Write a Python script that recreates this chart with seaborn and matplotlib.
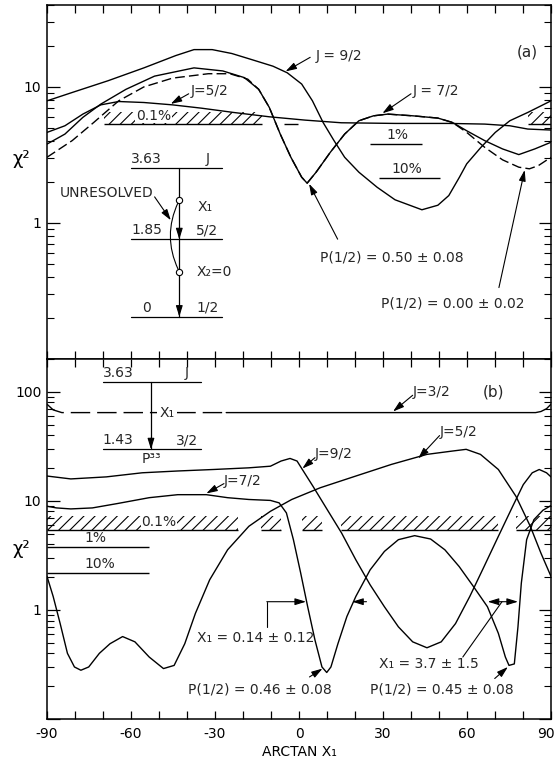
import numpy as np
import pandas as pd
import matplotlib
matplotlib.use("Agg")
import matplotlib.pyplot as plt
import matplotlib.transforms as mtransforms
from matplotlib.patches import FancyArrowPatch
from matplotlib.ticker import FixedLocator, FixedFormatter, LogLocator, NullFormatter
import seaborn as sns

# ---------------- panel (a): 3.63 -> 1.85 -> 0 cascade ----------------
A_J92_X = [-90, -81.0, -68.2, -55.4, -44.0, -37.5, -31.0, -24.0, -17.0, -9.3, -4.2, 0.95,
           4.8, 8.6, 12.5, 16.3, 21.4, 27.9, 34.3, 43.9, 49.6, 53.5, 57.3, 59.9, 65.0,
           70.1, 75.3, 81.7, 90]
A_J92_Y = [7.9, 9.1, 11.1, 13.8, 17.0, 18.8, 18.8, 17.6, 15.9, 14.2, 12.7, 10.5,
           7.9, 5.48, 4.03, 3.04, 2.36, 1.83, 1.48, 1.25, 1.35, 1.59, 2.17, 2.72, 3.6,
           4.63, 5.64, 6.49, 7.9]

A_J72_X = [-90, -83.6, -77.2, -70.8, -61.8, -51.6, -37.5, -27.2, -19.5, -14.4, -10.6, -6.7,
           -2.9, 0.95, 2.9, 6.1, 11.2, 16.3, 21.4, 26.6, 31.7, 40.7, 49.6, 54.8, 59.9,
           66.3, 72.7, 78.5, 84.2, 90]
A_J72_Y = [3.8, 4.5, 5.97, 7.47, 9.6, 12.0, 13.8, 13.1, 11.7, 9.6, 7.06, 4.5,
           3.04, 2.17, 1.96, 2.36, 3.31, 4.5, 5.64, 6.13, 6.31, 6.13, 5.9, 5.48, 4.76,
           4.03, 3.5, 3.18, 3.5, 3.92]

A_J72P0_X = [-90, -81.0, -73.3, -64.4, -55.4, -45.2, -32.4, -24.7, -18.3, -14.4, -10.6, -6.7,
             -2.9, 0.95, 2.9, 6.1, 11.2, 16.3, 21.4, 26.6, 31.7, 40.7, 49.6, 54.8, 59.9,
             66.3, 72.7, 78.5, 82.3, 85.5, 90]
A_J72P0_Y = [3.04, 4.03, 5.48, 7.9, 10.0, 11.6, 12.5, 12.5, 11.4, 9.6, 7.06, 4.5,
             3.04, 2.17, 1.96, 2.36, 3.31, 4.5, 5.64, 6.13, 6.31, 6.13, 5.9, 5.48, 4.63,
             3.6, 2.91, 2.57, 2.5, 2.64, 3.04]

A_J52_X = [-90, -83.6, -77.2, -70.8, -64.4, -55.4, -45.2, -34.9, -23.4, -10.6, 2.2, 15.1,
           34.3, 53.5, 66.3, 75.3, 81.7, 90]
A_J52_Y = [4.63, 5.18, 6.31, 7.38, 7.81, 7.68, 7.38, 6.98, 6.49, 6.03, 5.7, 5.45,
           5.39, 5.39, 5.33, 5.18, 4.9, 4.82]

# confidence levels (0.1 %, 1 %, 10 %)
A_LEVELS = [5.36, 3.8, 2.13]

# ---------------- panel (b): 3.63 -> 1.43 cascade ----------------
B_J32_X = [-90, -87.8, -84.7, -60, -26, 0, 30, 60, 84.5, 86.4, 88.4, 90]
B_J32_Y = [77, 68.3, 64.5, 64.5, 64.5, 64.5, 64.5, 64.5, 64.5, 66, 70, 77]

B_J92_X = [-90, -81.5, -68.8, -56.0, -43.3, -30.6, -17.9, -10.2, -6.4, -3.2, -0.7, 1.2,
           5.0, 10.1, 15.2, 20.3, 25.4, 30.5, 35.5, 40.6, 45.7, 50.8, 55.9, 61.0, 66.1,
           71.2, 76.3, 80.1, 83.3, 85.8, 88.4, 90]
B_J92_Y = [16.9, 15.9, 16.6, 18.1, 18.8, 19.4, 20.1, 20.8, 23.2, 24.5, 23.2, 19.4,
           13.6, 8.3, 5.08, 2.88, 1.7, 1.07, 0.70, 0.51, 0.45, 0.51, 0.75, 1.33, 2.5,
           4.73, 8.9, 14.1, 18.1, 19.4, 18.1, 16.6]

B_J72_X = [-90, -86.6, -81.5, -73.8, -64.9, -53.5, -43.3, -33.1, -25.5, -17.9, -10.2, -7.1,
           -4.5, -2.0, 0.6, 3.1, 5.7, 8.2, 9.9, 11.4, 13.9, 17.1, 20.3, 25.4, 30.5, 35.5,
           41.3, 47.0, 52.1, 57.2, 62.3, 67.3, 71.2, 73.7, 75.0, 76.9, 78.2, 79.4, 81.3,
           83.9, 87.1, 90]
B_J72_Y = [8.93, 8.62, 8.44, 8.62, 9.45, 10.7, 11.4, 11.4, 10.7, 10.3, 10.1, 9.59,
           7.76, 4.41, 2.18, 1.07, 0.53, 0.30, 0.267, 0.30, 0.49, 0.87, 1.33, 2.33, 3.44,
           4.41, 4.8, 4.47, 3.56, 2.5, 1.64, 1.07, 0.61, 0.37, 0.31, 0.32, 0.70, 1.76,
           4.41, 6.73, 8.2, 9.06]

B_J52_X = [-90, -87.8, -85.3, -82.7, -80.2, -77.9, -75.1, -71.3, -67.5, -63.0, -58.6, -53.5,
           -48.4, -44.6, -40.8, -37.0, -31.9, -25.5, -17.9, -10.2, -2.6, 7.6, 20.3, 33.0,
           45.7, 54.6, 59.7, 64.8, 71.2, 77.5, 82.6, 86.4, 90]
B_J52_Y = [2.03, 1.33, 0.75, 0.40, 0.30, 0.28, 0.30, 0.40, 0.49, 0.57, 0.51, 0.37,
           0.29, 0.31, 0.49, 0.93, 1.89, 3.56, 5.85, 8.03, 10.3, 13.2, 16.9, 21.6,
           26.7, 28.6, 29.7, 26.7, 19.4, 11.0, 5.85, 3.32, 2.03]

B_LEVELS = [5.37, 3.75, 2.18]
LEVEL_NAMES = ["0.1%", "1%", "10%"]

X_TICKS = list(range(-90, 91, 10))

# ---------------- style ----------------
sns.set_theme(style="ticks")
plt.rcParams["font.family"] = ["DejaVu Sans"]
plt.rcParams["axes.unicode_minus"] = False
plt.rcParams["hatch.linewidth"] = 0.8
FS = 10
LW = 1.0
K = "black"

W, H = 558, 759
fig = plt.figure(figsize=(W / 100, H / 100), dpi=100)
ax_a = fig.add_axes([47 / W, 1 - 359 / H, 504 / W, 354 / H])
ax_b = fig.add_axes([47 / W, 1 - 719 / H, 504 / W, 360 / H])


def curve(ax, xs, ys, **kw):
    df = pd.DataFrame({"arctan_x1": xs, "chi2": ys})
    sns.lineplot(data=df, x="arctan_x1", y="chi2", ax=ax, color=K, lw=LW,
                 sort=False, estimator=None, **kw)


def arrow(ax, tail, head, style="-|>", coords="data"):
    ax.annotate("", xy=head, xytext=tail, xycoords=coords, textcoords=coords,
                arrowprops=dict(arrowstyle=style + ",head_length=0.55,head_width=0.17",
                                color=K, lw=0.8, shrinkA=0, shrinkB=0))


def level(ax, value, x0, x1, hatch_top=None):
    ax.hlines(value, x0, x1, color=K, lw=LW)
    if hatch_top is not None:
        ax.fill_between([x0, x1], [value] * 2, [hatch_top] * 2, facecolor="none",
                        edgecolor=K, hatch="///", linewidth=0)


def style_axes(ax, ylim, yticks, ylabels, xlabels):
    ax.set_yscale("log")
    ax.set_xlim(-90, 90)
    ax.set_ylim(*ylim)
    ax.xaxis.set_major_locator(FixedLocator(X_TICKS))
    if xlabels:
        ax.xaxis.set_major_formatter(FixedFormatter(
            [str(v) if v % 30 == 0 else "" for v in X_TICKS]))
    else:
        ax.xaxis.set_major_formatter(NullFormatter())
    ax.yaxis.set_major_locator(FixedLocator(yticks))
    ax.yaxis.set_major_formatter(FixedFormatter(ylabels))
    ax.yaxis.set_minor_locator(LogLocator(base=10, subs=np.arange(2, 10)))
    ax.yaxis.set_minor_formatter(NullFormatter())
    ax.tick_params(axis="both", which="both", direction="in", top=True, right=True,
                   colors=K, labelsize=FS)
    ax.tick_params(axis="x", which="major", length=6, width=0.9, pad=6)
    ax.tick_params(axis="y", which="major", length=9, width=0.9, pad=4)
    ax.tick_params(axis="y", which="minor", length=5, width=0.8)
    for s in ax.spines.values():
        s.set_color(K)
        s.set_linewidth(1.1)
    ax.set_xlabel("")
    ax.set_ylabel("χ²", rotation=0, fontsize=13, color=K)


# ================= panel (a) =================
ax = ax_a
curve(ax, A_J92_X, A_J92_Y)
curve(ax, A_J72_X, A_J72_Y)
curve(ax, A_J52_X, A_J52_Y)
curve(ax, A_J72P0_X, A_J72P0_Y, linestyle=(0, (7, 3)))

lv01, lv1, lv10 = A_LEVELS
level(ax, lv01, -69.5, -13.2, hatch_top=lv01 * 1.21)
level(ax, lv01, -5.5, -0.5)
level(ax, lv01, 81.7, 90, hatch_top=lv01 * 1.21)
level(ax, lv1, 25.3, 43.9)
level(ax, lv10, 28.5, 50.3)
ax.text(-52, lv01 * 1.02, LEVEL_NAMES[0], ha="center", va="bottom", fontsize=FS,
        bbox=dict(facecolor="white", edgecolor="none", pad=0.5))
ax.text(35, lv1 * 1.04, LEVEL_NAMES[1], ha="center", va="bottom", fontsize=FS)
ax.text(38.5, lv10 * 1.04, LEVEL_NAMES[2], ha="center", va="bottom", fontsize=FS)

ax.text(81.4, 18, "(a)", ha="center", va="center", fontsize=11)
ax.text(6.1, 17, "J = 9/2", ha="left", va="center", fontsize=FS)
arrow(ax, (4.0, 16.5), (-4.8, 13.0))
ax.text(-38.7, 9.3, "J=5/2", ha="left", va="center", fontsize=FS)
arrow(ax, (-39.4, 8.9), (-45.8, 7.5))
ax.text(40.6, 9.3, "J = 7/2", ha="left", va="center", fontsize=FS)
arrow(ax, (40.0, 8.9), (29.8, 6.4))
ax.text(7.4, 0.56, "P(1/2) = 0.50 ± 0.08", ha="left", va="center", fontsize=FS)
arrow(ax, (13.8, 0.76), (3.6, 1.94))
ax.text(29.3, 0.255, "P(1/2) = 0.00 ± 0.02", ha="left", va="center", fontsize=FS)
arrow(ax, (71.4, 0.335), (80.6, 2.45))

# level scheme 3.63 -> 1.85 -> 0
t = ax.transAxes
for yy, left, right in [(0.5395, "3.63", "J"), (0.338, "1.85", "5/2"), (0.1195, "0", "1/2")]:
    ax.plot([0.1667, 0.3472], [yy, yy], transform=t, color=K, lw=0.9)
    ax.text(0.198, yy + 0.006, left, transform=t, ha="center", va="bottom", fontsize=FS)
    ax.text(0.318, yy + 0.006, right, transform=t, ha="center", va="bottom", fontsize=FS)
ax.plot([0.2625, 0.2625], [0.5395, 0.1195], transform=t, color=K, lw=0.9)
arrow(ax, (0.2625, 0.37), (0.2625, 0.338), coords="axes fraction")
arrow(ax, (0.2625, 0.15), (0.2625, 0.1195), coords="axes fraction")
for yy in (0.449, 0.2466):
    ax.plot([0.2625], [yy], transform=t, marker="o", ms=4.5, mfc="white", mec=K,
            mew=0.8, zorder=6)
ax.text(0.298, 0.428, "X₁", transform=t, ha="left", va="center", fontsize=FS)
ax.text(0.296, 0.2466, "X₂=0", transform=t, ha="left", va="center", fontsize=FS)
ax.add_patch(FancyArrowPatch((0.2625, 0.449), (0.2625, 0.2466), transform=t,
                             connectionstyle="arc3,rad=0.25", arrowstyle="-",
                             color=K, lw=0.8))
ax.text(0.025, 0.470, "UNRESOLVED", transform=t, ha="left", va="center", fontsize=FS)
arrow(ax, (0.2135, 0.458), (0.2456, 0.392), coords="axes fraction")

style_axes(ax, (0.1, 40), [0.1, 1, 10], ["", "1", "10"], xlabels=False)
ax.yaxis.set_label_coords(-0.05, 0.54)

# ================= panel (b) =================
ax = ax_b
j32 = pd.DataFrame({"x": B_J32_X, "y": B_J32_Y})
curve(ax, j32.x[j32.x <= -26], j32.y[j32.x <= -26], linestyle=(0, (14, 5)))
curve(ax, j32.x[j32.x >= -26], j32.y[j32.x >= -26])
curve(ax, B_J92_X, B_J92_Y)
curve(ax, B_J72_X, B_J72_Y)
curve(ax, B_J52_X, B_J52_Y)

lv01, lv1, lv10 = B_LEVELS
for x0, x1 in [(-90, -21.8), (-13.4, -6.4), (1.0, 8.2), (15.0, 71.0), (77.5, 90)]:
    level(ax, lv01, x0, x1, hatch_top=lv01 * 1.35)
level(ax, lv1, -90, -53.6)
level(ax, lv10, -90, -53.6)
ax.text(-50, lv01 * 1.03, LEVEL_NAMES[0], ha="center", va="bottom", fontsize=FS,
        bbox=dict(facecolor="white", edgecolor="none", pad=0.5))
ax.text(-72.6, lv1 * 1.04, LEVEL_NAMES[1], ha="center", va="bottom", fontsize=FS)
ax.text(-71.3, lv10 * 1.04, LEVEL_NAMES[2], ha="center", va="bottom", fontsize=FS)

ax.text(69.3, 100, "(b)", ha="center", va="center", fontsize=11)
ax.text(40.6, 100, "J=3/2", ha="left", va="center", fontsize=FS)
arrow(ax, (40.6, 93), (33.6, 66))
ax.text(50.2, 42.5, "J=5/2", ha="left", va="center", fontsize=FS)
arrow(ax, (50.2, 39.7), (42.6, 24.5))
ax.text(5.7, 26.8, "J=9/2", ha="left", va="center", fontsize=FS)
arrow(ax, (5.7, 24.9), (1.2, 19.8))
ax.text(-26.8, 15.2, "J=7/2", ha="left", va="center", fontsize=FS)
arrow(ax, (-26.8, 14.4), (-33.1, 11.7))

ax.text(-36.3, 0.548, "X₁ = 0.14 ± 0.12", ha="left", va="center", fontsize=FS)
ax.plot([-11.5, -11.5], [0.70, 1.19], color=K, lw=0.8)
arrow(ax, (-11.5, 1.19), (2.5, 1.19))
arrow(ax, (24.1, 1.19), (19.0, 1.19))
ax.text(28.6, 0.32, "X₁ = 3.7 ± 1.5", ha="left", va="center", fontsize=FS)
ax.plot([58.5, 72.5], [0.37, 1.19], color=K, lw=0.8)
arrow(ax, (67.4, 1.19), (78.2, 1.19), style="<|-|>")
ax.text(-39.5, 0.186, "P(1/2) = 0.46 ± 0.08", ha="left", va="center", fontsize=FS)
arrow(ax, (3.75, 0.243), (8.4, 0.29))
ax.text(25.4, 0.186, "P(1/2) = 0.45 ± 0.08", ha="left", va="center", fontsize=FS)
arrow(ax, (69.9, 0.235), (74.6, 0.30))

# level scheme 3.63 -> 1.43
t = ax.transAxes
for yy, left, right in [(0.937, "3.63", "J"), (0.749, "1.43", "3/2")]:
    ax.plot([0.111, 0.3056], [yy, yy], transform=t, color=K, lw=0.9)
    ax.text(0.141, yy + 0.006, left, transform=t, ha="center", va="bottom", fontsize=FS)
    ax.text(0.278, yy + 0.006, right, transform=t, ha="center", va="bottom", fontsize=FS)
ax.plot([0.2063, 0.2063], [0.937, 0.749], transform=t, color=K, lw=0.9)
arrow(ax, (0.2063, 0.78), (0.2063, 0.749), coords="axes fraction")
ax.text(0.208, 0.742, "P³³", transform=t, ha="center", va="top", fontsize=FS)
ax.text(0.238, 0.85, "X₁", transform=t, ha="center", va="center", fontsize=FS,
        bbox=dict(facecolor="white", edgecolor="none", pad=1.5))

style_axes(ax, (0.1, 200), [0.1, 1, 10, 100], ["", "1", "10", "100"], xlabels=True)
ax.yaxis.set_label_coords(-0.05, 0.447)
ax.set_xlabel("ARCTAN X₁", fontsize=FS, color=K, labelpad=3)

# keep the right-most tick label inside the figure
fig.canvas.draw()
last = ax.get_xticklabels()[-1]
last.set_transform(last.get_transform() +
                   mtransforms.ScaledTranslation(-4 / 72, 0, fig.dpi_scale_trans))

fig.savefig("out.png", dpi=100)
